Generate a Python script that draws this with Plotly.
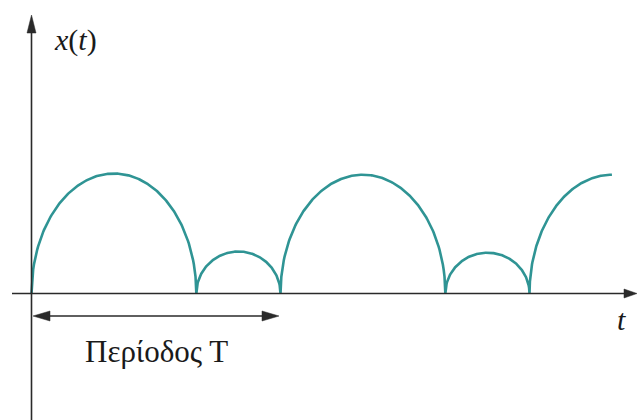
import numpy as np
import plotly.graph_objects as go

# Full-wave signal made of alternating large and small lobes, period T = 1
arc_start = [0.0, 0.662, 1.0, 1.662, 2.0]
arc_end = [0.662, 1.0, 1.662, 2.0, 2.662]
arc_peak = [1.0, 0.35, 0.99, 0.34, 0.99]
t_stop = 2.331          # curve is cut off at the top of the last lobe

period_label = "Περίοδος Τ"
y_label = "<i>x</i>(<i>t</i>)"
x_label = "<i>t</i>"

W, H = 638, 420
# data window (t in periods, amplitude in units of the large lobe)
px_x = 249.0            # pixels per period
px_y = 120.0            # pixels per amplitude unit
x0_px, y0_px = 31.5, 293.5
x_range = [-x0_px / px_x, (W - x0_px) / px_x]
y_range = [-(H - y0_px) / px_y, y0_px / px_y]

def px_to_t(px):
    return (px - x0_px) / px_x

def px_to_y(py):
    return (y0_px - py) / px_y

# sample each lobe as a half-ellipse
ts, ys = [], []
for a, b, h in zip(arc_start, arc_end, arc_peak):
    c, r = (a + b) / 2, (b - a) / 2
    hi = min(b, t_stop)
    tt = np.linspace(a, hi, 200)
    u = np.clip((tt - c) / r, -1, 1)
    ts.extend(tt.tolist())
    ys.extend((h * np.sqrt(1 - u ** 2)).tolist())
    if hi < b:
        break

fig = go.Figure()
fig.add_trace(go.Scatter(
    x=ts, y=ys, mode="lines",
    line=dict(color="#2f9494", width=2.6),
    hoverinfo="skip", showlegend=False,
))

axis_col = "#2a2a2a"
shapes = []

def line(xa, ya, xb, yb, w=1.6):
    shapes.append(dict(type="line", x0=xa, y0=ya, x1=xb, y1=yb,
                       xref="x", yref="y", line=dict(color=axis_col, width=w)))

def head(tip_px, direction, length, width):
    """filled triangular arrowhead; tip given in pixels, direction in {'r','l','u'}"""
    tx, ty = tip_px
    if direction == "r":
        pts = [(tx, ty), (tx - length, ty - width / 2), (tx - length, ty + width / 2)]
    elif direction == "l":
        pts = [(tx, ty), (tx + length, ty - width / 2), (tx + length, ty + width / 2)]
    else:
        pts = [(tx, ty), (tx - width / 2, ty + length), (tx + width / 2, ty + length)]
    d = "M " + " L ".join(f"{px_to_t(px)},{px_to_y(py)}" for px, py in pts) + " Z"
    shapes.append(dict(type="path", path=d, xref="x", yref="y",
                       fillcolor=axis_col, line=dict(color=axis_col, width=0.5)))

# horizontal axis with arrow
line(px_to_t(12), 0, px_to_t(626), 0)
head((637, y0_px), "r", 13, 9)
# vertical axis with arrow
line(0, y_range[0], 0, px_to_y(28))
head((x0_px, 15), "u", 18, 9)
# period marker (double arrow)
yp = 316
line(px_to_t(45), px_to_y(yp), px_to_t(266), px_to_y(yp), w=1.5)
head((33, yp), "l", 17, 10)
head((279, yp), "r", 17, 10)

fig.update_layout(shapes=shapes)

font = dict(family="Liberation Serif", color="#1a1a1a")
fig.add_annotation(x=px_to_t(75.5), y=px_to_y(40), text=y_label, showarrow=False,
                   xref="x", yref="y", font=dict(size=30, **font))
fig.add_annotation(x=px_to_t(621), y=px_to_y(319), text=x_label, showarrow=False,
                   xref="x", yref="y", font=dict(size=30, **font))
fig.add_annotation(x=px_to_t(156), y=px_to_y(351), text=period_label, showarrow=False,
                   xref="x", yref="y", font=dict(size=31, **font))

fig.update_layout(
    width=W, height=H,
    margin=dict(l=0, r=0, t=0, b=0),
    paper_bgcolor="white", plot_bgcolor="white",
    xaxis=dict(range=x_range, visible=False, fixedrange=True),
    yaxis=dict(range=y_range, visible=False, fixedrange=True),
    showlegend=False,
)

fig.write_html("out.html")
